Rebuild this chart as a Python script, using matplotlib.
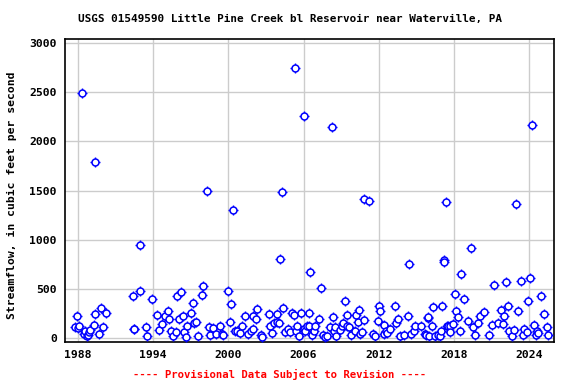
import numpy as np
import matplotlib
matplotlib.use('Agg')
import matplotlib.pyplot as plt

# measurement dates (decimal years) and streamflow, cfs
years = [1987.8, 1987.92, 1988.0, 1988.1, 1988.32, 1988.5, 1988.6, 1988.7, 1988.8, 1988.9,
         1989.0, 1989.28, 1989.33, 1989.36, 1989.7, 1989.84, 1990.0, 1990.24,
         1992.4, 1992.45, 1992.5, 1992.93, 1992.96, 1993.44, 1993.5, 1993.92,
         1994.3, 1994.5, 1994.75, 1994.96, 1995.2, 1995.3, 1995.4, 1995.6, 1995.8,
         1995.9, 1996.1, 1996.2, 1996.35, 1996.5, 1996.6, 1996.7, 1997.0, 1997.2,
         1997.25, 1997.45, 1997.55, 1997.92, 1998.0, 1998.32, 1998.48, 1998.5,
         1998.8, 1998.99, 1999.36, 1999.47, 1999.55, 2000.0, 2000.16, 2000.24,
         2000.4, 2000.53, 2000.7, 2000.93, 2001.12, 2001.33, 2001.6, 2001.8,
         2001.95, 2002.0, 2002.2, 2002.27, 2002.6, 2002.65, 2003.28, 2003.33,
         2003.5, 2003.65, 2003.87, 2003.92, 2004.08, 2004.13, 2004.32, 2004.4,
         2004.53, 2004.75, 2004.88, 2005.07, 2005.2, 2005.28, 2005.4, 2005.5,
         2005.65, 2005.8, 2006.0, 2006.05, 2006.15, 2006.3, 2006.4, 2006.45,
         2006.48, 2006.66, 2006.8, 2006.9, 2007.2, 2007.36, 2007.55, 2007.7,
         2007.9, 2008.1, 2008.24, 2008.32, 2008.4, 2008.5, 2008.58, 2008.93,
         2009.04, 2009.15, 2009.28, 2009.44, 2009.47, 2009.6, 2009.78, 2010.13,
         2010.2, 2010.33, 2010.4, 2010.53, 2010.67, 2010.8, 2010.85, 2011.2,
         2011.5, 2011.66, 2011.95, 2012.0, 2012.13, 2012.4, 2012.45, 2012.55,
         2012.67, 2012.93, 2013.28, 2013.4, 2013.5, 2013.7, 2014.0, 2014.3,
         2014.4, 2014.53, 2014.8, 2014.9, 2015.4, 2015.7, 2015.75, 2015.92,
         2015.93, 2016.0, 2016.27, 2016.32, 2016.5, 2016.7, 2016.9, 2017.0,
         2017.04, 2017.17, 2017.18, 2017.36, 2017.4, 2017.55, 2017.65, 2017.7,
         2017.92, 2018.05, 2018.16, 2018.35, 2018.5, 2018.53, 2018.77, 2019.12,
         2019.33, 2019.52, 2019.65, 2019.92, 2020.08, 2020.37, 2020.77, 2020.99,
         2021.2, 2021.52, 2021.76, 2021.88, 2021.95, 2022.13, 2022.32, 2022.4,
         2022.6, 2022.8, 2022.96, 2023.12, 2023.33, 2023.5, 2023.6, 2023.8,
         2023.92, 2024.08, 2024.24, 2024.4, 2024.55, 2024.65, 2024.7, 2024.96,
         2025.2, 2025.4, 2025.5]
flow = [110, 227, 100, 120, 2490, 40, 70, 20, 35, 60,
        85, 136, 247, 1790, 37, 308, 108, 254,
        430, 90, 95, 949, 481, 108, 17, 400,
        230, 85, 146, 227, 278, 197, 68, 17, 61,
        424, 197, 468, 220, 58, 10, 125, 254, 356,
        152, 166, 17, 437, 532, 1495, 108, 34,
        100, 44, 125, 40, 27, 481, 163, 346,
        1302, 75, 68, 51, 119, 220, 40, 68,
        95, 220, 197, 295, 34, 10, 244, 125,
        51, 152, 159, 247, 152, 803, 1485, 305,
        61, 92, 64, 254, 237, 2746, 68, 125,
        17, 254, 92, 2258, 68, 125, 254, 125,
        671, 34, 68, 125, 197, 508, 34, 10,
        17, 112, 2146, 214, 68, 112, 17, 85,
        125, 152, 380, 237, 125, 108, 34, 75,
        237, 159, 288, 44, 58, 186, 1417, 1393,
        44, 17, 176, 329, 271, 136, 44, 68,
        50, 92, 329, 152, 193, 24, 34, 227,
        753, 40, 75, 125, 125, 40, 34, 203,
        210, 24, 119, 315, 20, 34, 25, 68,
        325, 790, 770, 1383, 125, 120, 125, 58,
        142, 447, 278, 214, 68, 654, 400, 176,
        915, 108, 34, 152, 220, 264, 34, 136,
        539, 152, 285, 142, 227, 570, 329, 75,
        17, 85, 1363, 278, 583, 34, 95, 58,
        380, 610, 2163, 136, 34, 68, 50, 430,
        244, 108, 34]

fig = plt.figure(figsize=(5.76, 3.84), dpi=100)
ax = fig.add_axes([0.1134, 0.1094, 0.849, 0.7883])

# USGS style: open circle with little tick marks
ax.plot(years, flow, linestyle='none', marker='+', markersize=7,
        markeredgewidth=1.0, color='blue', zorder=3)
ax.plot(years, flow, linestyle='none', marker='o', markersize=5,
        markerfacecolor='white', markeredgecolor='blue',
        markeredgewidth=1.1, zorder=4)

ax.set_xlim(1987, 2026)
ax.set_ylim(-40, 3040)
ax.set_xticks(np.arange(1988, 2025, 6))
ax.set_yticks(np.arange(0, 3001, 500))
ax.grid(True, color='#cccccc', linewidth=1.0)
ax.set_axisbelow(True)
for s in ax.spines.values():
    s.set_linewidth(1.2)

mono = 'DejaVu Sans Mono'
ax.tick_params(length=0, pad=6)
for lab in ax.get_xticklabels() + ax.get_yticklabels():
    lab.set_fontfamily(mono)
    lab.set_fontweight('bold')
    lab.set_fontsize(8.2)

fig.text(290 / 576, 1 - 19 / 384,
         'USGS 01549590 Little Pine Creek bl Reservoir near Waterville, PA',
         fontfamily=mono, fontweight='bold', fontsize=7.9,
         ha='center', va='center')
fig.text(12 / 576, 1 - 195 / 384, 'Streamflow, in cubic feet per second',
         fontfamily=mono, fontweight='bold', fontsize=8.2, rotation=90,
         ha='center', va='center')
fig.text(280 / 576, 1 - 374 / 384, '---- Provisional Data Subject to Revision ----',
         color='red', fontfamily=mono, fontweight='bold', fontsize=7.7,
         ha='center', va='center')

fig.savefig('out.png', dpi=100)
